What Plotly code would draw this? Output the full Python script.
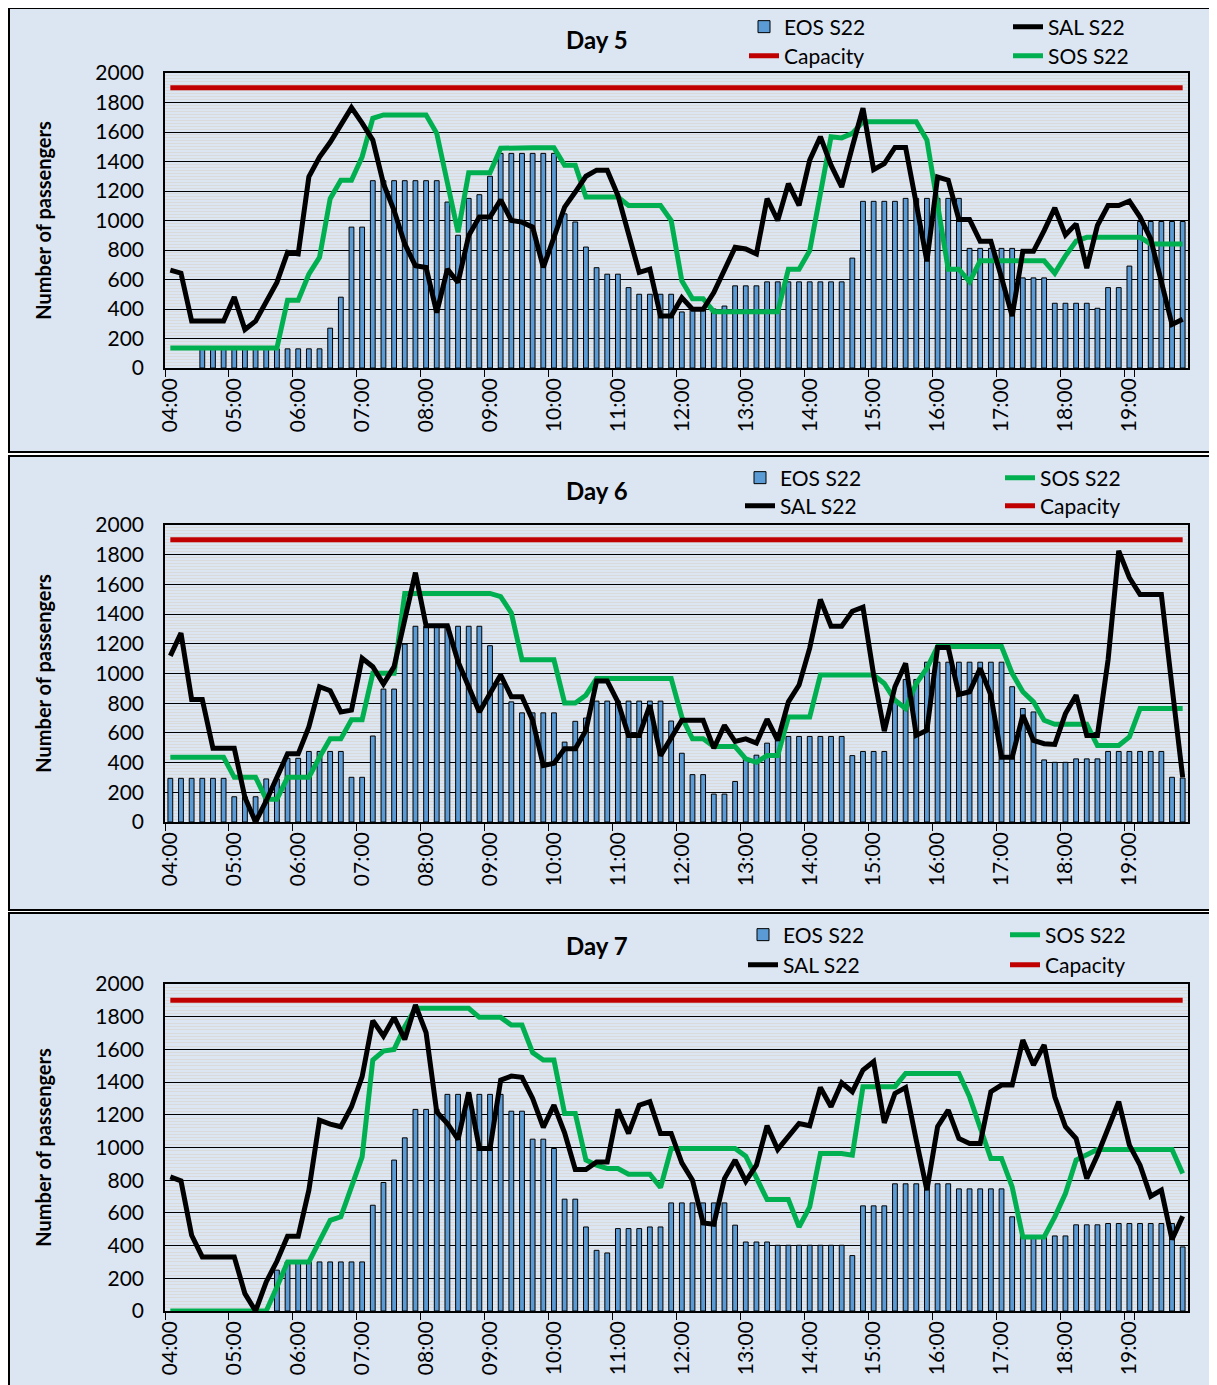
import plotly.graph_objects as go

# ---------------- data ----------------
TIMES = [f"{h:02d}:{m:02d}" for h in range(4, 20) for m in range(0, 60, 10)]
HOUR_TICKS = [f"{h:02d}:00" for h in range(4, 20)]
CAPACITY = [1900] * 96

D5_EOS = [0, 0, 0, 130, 130, 130, 130, 130, 130, 130,
          130, 130, 130, 130, 130, 270, 480, 955, 955, 1270,
          1270, 1270, 1270, 1270, 1270, 1270, 1125, 900, 1150, 1175,
          1300, 1455, 1455, 1455, 1455, 1455, 1455, 1045, 990, 820,
          680, 636, 636, 545, 500, 500, 500, 500, 380, 400,
          400, 400, 420, 557, 557, 557, 584, 584, 584, 584,
          584, 584, 584, 584, 745, 1130, 1130, 1130, 1130, 1150,
          1150, 1150, 1150, 1150, 1150, 811, 811, 811, 811, 811,
          611, 611, 611, 439, 439, 439, 439, 405, 545, 545,
          691, 993, 993, 993, 993, 993]
D5_SAL = [664, 643, 318, 318, 318, 318, 482, 261, 318, 443,
          580, 784, 773, 1296, 1430, 1530, 1640, 1765, 1660, 1545,
          1250, 1068, 841, 693, 682, 375, 670, 580, 898, 1023,
          1023, 1140, 1000, 989, 955, 682, 886, 1091, 1193, 1300,
          1341, 1341, 1170, 909, 648, 670, 352, 352, 477, 398,
          398, 511, 659, 818, 807, 773, 1148, 1000, 1250, 1102,
          1409, 1568, 1375, 1227, 1500, 1761, 1345, 1386, 1495, 1495,
          1114, 723, 1295, 1273, 1007, 1007, 859, 859, 614, 352,
          791, 791, 932, 1086, 902, 977, 677, 966, 1102, 1102,
          1132, 1023, 875, 591, 295, 330]
D5_SOS = [136, 136, 136, 136, 136, 136, 136, 136, 136, 136,
          136, 459, 459, 636, 750, 1148, 1273, 1273, 1432, 1693,
          1716, 1716, 1716, 1716, 1716, 1591, 1273, 920, 1323, 1323,
          1323, 1490, 1493, 1493, 1493, 1493, 1493, 1375, 1375, 1159,
          1159, 1159, 1159, 1102, 1102, 1102, 1102, 1000, 591, 470,
          470, 382, 382, 382, 382, 382, 382, 382, 670, 670,
          795, 1182, 1568, 1560, 1591, 1670, 1670, 1670, 1670, 1670,
          1670, 1545, 1100, 670, 670, 584, 727, 727, 727, 727,
          727, 727, 727, 643, 760, 860, 886, 886, 886, 886,
          886, 886, 841, 841, 841, 841]

D6_EOS = [294, 294, 294, 294, 294, 294, 170, 170, 170, 290,
          290, 429, 429, 475, 475, 475, 475, 301, 301, 579,
          895, 895, 1198, 1318, 1318, 1318, 1318, 1318, 1318, 1318,
          1187, 930, 809, 735, 735, 735, 735, 538, 678, 700,
          814, 814, 814, 814, 814, 814, 814, 680, 463, 319,
          319, 188, 188, 273, 430, 450, 531, 549, 576, 576,
          576, 576, 576, 576, 447, 475, 475, 475, 820, 960,
          960, 1076, 1076, 1076, 1076, 1076, 1076, 1076, 1076, 911,
          764, 741, 418, 402, 402, 425, 425, 425, 475, 475,
          475, 475, 475, 475, 301, 296]
D6_SAL = [1119, 1272, 825, 825, 497, 497, 497, 165, 0, 142,
          301, 459, 459, 640, 911, 884, 741, 753, 1103, 1046,
          929, 1046, 1363, 1679, 1322, 1322, 1322, 1080, 911, 741,
          866, 990, 843, 843, 685, 380, 396, 493, 493, 617,
          949, 949, 809, 583, 583, 786, 447, 572, 685, 685,
          685, 497, 651, 542, 560, 531, 692, 549, 809, 922,
          1171, 1498, 1318, 1318, 1419, 1446, 990, 612, 911, 1069,
          583, 617, 1175, 1175, 859, 877, 1035, 854, 436, 436,
          719, 549, 527, 522, 730, 854, 583, 583, 1092, 1826,
          1645, 1532, 1532, 1532, 911, 301]
D6_SOS = [436, 436, 436, 436, 436, 436, 301, 301, 301, 154,
          154, 301, 301, 301, 436, 560, 560, 689, 689, 1001,
          1001, 1001, 1539, 1539, 1539, 1539, 1539, 1539, 1539, 1539,
          1539, 1518, 1408, 1092, 1092, 1092, 1092, 802, 802, 854,
          967, 967, 967, 967, 967, 967, 967, 967, 707, 560,
          560, 508, 508, 508, 425, 402, 447, 447, 707, 707,
          707, 990, 990, 990, 990, 990, 990, 933, 820, 764,
          933, 1035, 1182, 1182, 1182, 1182, 1182, 1182, 1182, 1001,
          877, 809, 685, 658, 658, 658, 658, 515, 515, 515,
          572, 764, 764, 764, 764, 764]

D7_EOS = [0, 0, 0, 0, 0, 0, 0, 0, 0, 0,
          250, 300, 300, 300, 300, 300, 300, 300, 300, 647,
          786, 923, 1059, 1233, 1233, 1233, 1325, 1325, 1325, 1325,
          1325, 1325, 1222, 1222, 1051, 1051, 994, 684, 684, 514,
          371, 355, 504, 504, 504, 514, 514, 661, 661, 661,
          661, 661, 661, 525, 422, 422, 422, 402, 402, 402,
          402, 402, 402, 402, 339, 643, 643, 643, 778, 778,
          778, 778, 778, 778, 747, 747, 747, 747, 747, 576,
          460, 460, 460, 459, 459, 527, 527, 527, 535, 535,
          535, 535, 535, 535, 535, 392]
D7_SAL = [820, 796, 463, 331, 331, 331, 331, 106, 0, 178,
          304, 457, 457, 739, 1167, 1143, 1127, 1249, 1433, 1776,
          1682, 1796, 1661, 1872, 1702, 1218, 1147, 1049, 1337, 994,
          994, 1412, 1437, 1429, 1300, 1123, 1259, 1090, 865, 865,
          912, 912, 1233, 1086, 1259, 1280, 1086, 1086, 906, 800,
          539, 531, 810, 923, 794, 892, 1133, 988, 1065, 1147,
          1133, 1367, 1249, 1396, 1341, 1474, 1525, 1151, 1331, 1367,
          1045, 739, 1127, 1229, 1055, 1025, 1025, 1341, 1382, 1382,
          1657, 1504, 1627, 1310, 1127, 1055, 810, 953, 1116, 1280,
          1014, 892, 702, 739, 437, 580]
D7_SOS = [0, 0, 0, 0, 0, 0, 0, 0, 0, 0,
          147, 300, 300, 300, 428, 555, 576, 759, 943, 1535,
          1590, 1600, 1739, 1851, 1851, 1851, 1851, 1851, 1851, 1796,
          1796, 1796, 1749, 1749, 1580, 1535, 1535, 1208, 1208, 923,
          892, 872, 872, 837, 837, 837, 755, 994, 994, 994,
          994, 994, 994, 994, 947, 820, 682, 682, 682, 514,
          637, 963, 963, 963, 953, 1372, 1372, 1372, 1372, 1453,
          1453, 1453, 1453, 1453, 1453, 1310, 1127, 933, 933, 759,
          453, 453, 453, 576, 718, 923, 953, 988, 988, 988,
          988, 988, 988, 988, 988, 841]

DAY_TITLES = ["Day 5", "Day 6", "Day 7"]

# ---------------- layout helpers ----------------
# The page body has an 8px margin, so the figure is placed at (8, 8);
# positions below are given in page pixels and converted.
OFF = 8
W, H = 1217 - OFF, 1385 - OFF
FONT = "Lato"


def fx(x):
    return (x - OFF) / W


def fy(y):
    return 1 - (y - OFF) / H


COLORS = {"EOS S22": "#5B9BD5", "SAL S22": "#000000",
          "SOS S22": "#00B050", "Capacity": "#C00000"}

days = [
    dict(title=DAY_TITLES[0], eos=D5_EOS, sal=D5_SAL, sos=D5_SOS,
         top=73, bottom=368, title_y=40, panel=(8, 452),
         leg={"EOS S22": (784, 27), "SAL S22": (1048, 27),
              "Capacity": (784, 56), "SOS S22": (1048, 56)}),
    dict(title=DAY_TITLES[1], eos=D6_EOS, sal=D6_SAL, sos=D6_SOS,
         top=525, bottom=822, title_y=491, panel=(456, 910),
         leg={"EOS S22": (780, 478), "SOS S22": (1040, 478),
              "SAL S22": (780, 506), "Capacity": (1040, 506)}),
    dict(title=DAY_TITLES[2], eos=D7_EOS, sal=D7_SAL, sos=D7_SOS,
         top=984, bottom=1311, title_y=945, panel=(913, 1400),
         leg={"EOS S22": (783, 935), "SOS S22": (1045, 935),
              "SAL S22": (783, 965), "Capacity": (1045, 965)}),
]

LEG_OFFSET = 40

fig = go.Figure()
layout = dict(
    width=W, height=H, margin=dict(l=0, r=0, t=0, b=0, autoexpand=False),
    paper_bgcolor="white", plot_bgcolor="white", showlegend=True,
    font=dict(family=FONT, color="black", size=21),
    barmode="overlay", hovermode=False,
    shapes=[], annotations=[],
)

legend_counter = 0
for k, d in enumerate(days):
    sfx = "" if k == 0 else str(k + 1)
    xa, ya = "x" + sfx, "y" + sfx

    legnames = {}
    for name in ["EOS S22", "SAL S22", "SOS S22", "Capacity"]:
        legend_counter += 1
        lname = "legend" if legend_counter == 1 else f"legend{legend_counter}"
        tx, ty = d["leg"][name]
        layout[lname] = dict(
            x=fx(tx - LEG_OFFSET), y=fy(ty), xanchor="left", yanchor="middle",
            orientation="h", bgcolor="rgba(0,0,0,0)", borderwidth=0,
            font=dict(family=FONT, size=21, color="black"), visible=True,
        )
        legnames[name] = lname

    # an empty slot (0 passengers) shows no bar at all
    eos_bars = [v if v else None for v in d["eos"]]
    fig.add_trace(go.Bar(
        x=TIMES, y=eos_bars, name="EOS S22", xaxis=xa, yaxis=ya, showlegend=True,
        marker=dict(color=COLORS["EOS S22"], line=dict(color="black", width=1)),
        width=0.45, legend=legnames["EOS S22"],
    ))
    fig.add_trace(go.Scatter(
        x=TIMES, y=CAPACITY, name="Capacity", mode="lines", xaxis=xa, yaxis=ya,
        showlegend=True,
        line=dict(color=COLORS["Capacity"], width=5), legend=legnames["Capacity"],
    ))
    fig.add_trace(go.Scatter(
        x=TIMES, y=d["sos"], name="SOS S22", mode="lines", xaxis=xa, yaxis=ya,
        showlegend=True,
        line=dict(color=COLORS["SOS S22"], width=5), legend=legnames["SOS S22"],
    ))
    fig.add_trace(go.Scatter(
        x=TIMES, y=d["sal"], name="SAL S22", mode="lines", xaxis=xa, yaxis=ya,
        showlegend=True,
        line=dict(color=COLORS["SAL S22"], width=5), legend=legnames["SAL S22"],
    ))

    xkey = "xaxis" if k == 0 else f"xaxis{k + 1}"
    ykey = "yaxis" if k == 0 else f"yaxis{k + 1}"
    layout[xkey] = dict(
        domain=[fx(165), fx(1188)], anchor=ya, type="category",
        categoryorder="array", categoryarray=TIMES, range=[-0.5, 95.5],
        tickmode="array", tickvals=HOUR_TICKS, ticktext=HOUR_TICKS,
        tickson="boundaries", ticks="outside", ticklen=7, tickwidth=1,
        tickcolor="black", tickangle=-90,
        tickfont=dict(family=FONT, size=21, color="black"),
        showline=True, linecolor="black", linewidth=1.5, mirror=True,
        showgrid=False, zeroline=False, fixedrange=True, automargin=False,
    )
    layout[ykey] = dict(
        domain=[fy(d["bottom"]), fy(d["top"])], anchor=xa,
        range=[0, 2000], dtick=200, tick0=0,
        showgrid=True, gridcolor="black", gridwidth=1,
        minor=dict(dtick=20, showgrid=True, gridcolor="#DADADA", gridwidth=1.3),
        showline=True, linecolor="black", linewidth=1.5, mirror=True,
        ticks="", ticklabelstandoff=15,
        tickfont=dict(family=FONT, size=21, color="black"),
        title=dict(text="Number of passengers", standoff=38,
                   font=dict(family=FONT, size=20, color="black", weight="bold")),
        zeroline=False, fixedrange=True, automargin=False,
    )

    p0, p1 = d["panel"]
    layout["shapes"].append(dict(
        type="rect", xref="paper", yref="paper", layer="below",
        x0=fx(9), x1=fx(1240), y0=fy(p1), y1=fy(p0),
        fillcolor="#DCE6F2", line=dict(color="black", width=2),
    ))
    layout["annotations"].append(dict(
        text=d["title"], xref="paper", yref="paper", x=fx(597), y=fy(d["title_y"]),
        xanchor="center", yanchor="middle", showarrow=False,
        font=dict(family=FONT, size=24, color="black", weight="bold"),
    ))

fig.update_layout(**layout)
fig.write_html("out.html")
